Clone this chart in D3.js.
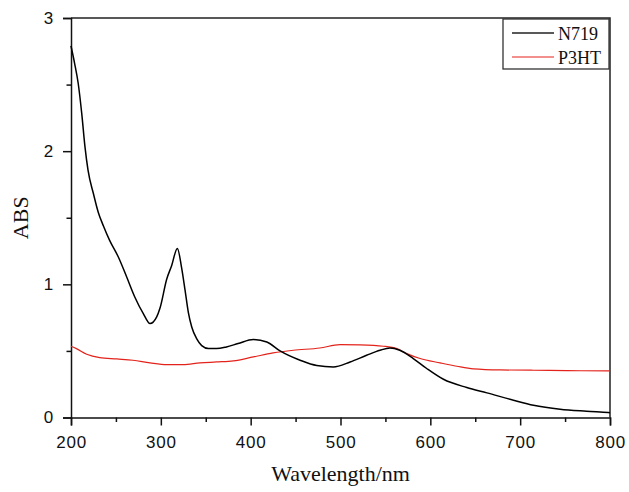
<!DOCTYPE html>
<html><head><meta charset="utf-8">
<script src="https://cdn.jsdelivr.net/npm/d3@7"></script>
<style>body{margin:0;background:#fff}</style>
</head><body>
<svg id="c" width="629" height="492"></svg>
<script>
const seriesNames = ["N719", "P3HT"];
const n719Wavelength = [200,204,208,212,215.6,219,225,230.4,236,243,252.7,262,271,280.5,288,295.4,299,306.6,312,318.4,323,327,330.6,334.4,340,345.5,353,362,373,386,403,418,432.7,455,473.6,492,510.7,529,544,555,566,581,596,614.6,640.6,663,692.5,714.8,744.5,774,798,800];
const n719Abs = [2.79,2.66,2.51,2.28,2.03,1.855,1.68,1.54,1.44,1.33,1.205,1.055,0.905,0.78,0.705,0.755,0.82,1.04,1.14,1.27,1.13,0.955,0.79,0.68,0.59,0.54,0.518,0.518,0.53,0.555,0.585,0.567,0.50,0.43,0.39,0.38,0.417,0.467,0.505,0.522,0.505,0.443,0.368,0.287,0.225,0.185,0.13,0.092,0.062,0.047,0.037,0.036];
const p3htWavelength = [200,206,217.5,232,251,269,288,306.6,325,343.6,362,380.7,403,425,447.5,477,499.5,521.8,547.8,562.7,573.8,588.6,611,629.5,648,677.7,714.8,752,798,800];
const p3htAbs = [0.535,0.517,0.475,0.45,0.44,0.43,0.41,0.397,0.397,0.41,0.417,0.425,0.455,0.485,0.505,0.522,0.547,0.545,0.535,0.517,0.48,0.443,0.41,0.385,0.365,0.357,0.355,0.352,0.35,0.35];
const xTicks = [200,300,400,500,600,700,800];
const yTicks = [0,1,2,3];

const svg = d3.select("#c");
const L = 71, R = 610, T = 18, B = 417.5;
const x = d3.scaleLinear().domain([200,800]).range([L,R]);
const y = d3.scaleLinear().domain([0,3]).range([B,T]);

// frame top/right
svg.append("path").attr("d",`M${L},${T}H${R}V${B}`).attr("fill","none").attr("stroke","#222").attr("stroke-width",1.5);

// axes
const xa = svg.append("g").attr("transform",`translate(0,${B})`);
xa.call(d3.axisBottom(x).tickValues(d3.range(250,800,100)).tickSize(4.5).tickFormat(""));
xa.call(g=>g.selectAll(".domain").remove());
const xb = svg.append("g").attr("transform",`translate(0,${B})`);
xb.call(d3.axisBottom(x).tickValues(xTicks).tickSize(8).tickPadding(10).tickFormat(d3.format("d")));
const ya = svg.append("g").attr("transform",`translate(${L},0)`);
ya.call(d3.axisLeft(y).tickValues([0.5,1.5,2.5]).tickSize(4.5).tickFormat(""));
ya.call(g=>g.selectAll(".domain").remove());
const yb = svg.append("g").attr("transform",`translate(${L},0)`);
yb.call(d3.axisLeft(y).tickValues(yTicks).tickSize(8).tickPadding(9).tickFormat(d3.format("d")));
svg.selectAll(".tick line").attr("stroke","#111").attr("stroke-width",1.5);
svg.selectAll(".domain").attr("stroke","#111").attr("stroke-width",1.5);
svg.selectAll(".tick text").attr("font-family","Liberation Sans, Arial, sans-serif").attr("font-size",17).attr("letter-spacing","0.8px").attr("fill","#111");

// lines
const line = d3.line().x(d=>x(d[0])).y(d=>y(d[1])).curve(d3.curveMonotoneX);
svg.append("path").datum(p3htWavelength.map((w,i)=>[w,p3htAbs[i]]))
  .attr("d",line).attr("fill","none").attr("stroke","#e3231b").attr("stroke-width",1.2);
svg.append("path").datum(n719Wavelength.map((w,i)=>[w,n719Abs[i]]))
  .attr("d",line).attr("fill","none").attr("stroke","#000").attr("stroke-width",1.5);

// titles
svg.append("text").attr("x",(L+R)/2).attr("y",481).attr("text-anchor","middle")
  .attr("font-family","Liberation Serif, Times New Roman, serif").attr("font-size",22).attr("fill","#111").text("Wavelength/nm");
svg.append("text").attr("transform",`translate(28,${(T+B)/2}) rotate(-90)`).attr("text-anchor","middle")
  .attr("font-family","Liberation Serif, Times New Roman, serif").attr("font-size",22).attr("fill","#111").text("ABS");

// legend
const lg = svg.append("g");
lg.append("rect").attr("x",503).attr("y",19).attr("width",106).attr("height",50).attr("fill","#fff").attr("stroke","#333").attr("stroke-width",1.3);
const colors = ["#222","#e3231b"];
seriesNames.forEach((s,i)=>{
  const yy = 33 + i*24;
  lg.append("line").attr("x1",512).attr("x2",554).attr("y1",yy).attr("y2",yy).attr("stroke",colors[i]).attr("stroke-width",i?1.2:1.5);
  lg.append("text").attr("x",558).attr("y",yy+6.5).attr("font-family","Liberation Serif, Times New Roman, serif").attr("font-size",18).attr("fill","#111").text(s);
});
</script>
</body></html>
